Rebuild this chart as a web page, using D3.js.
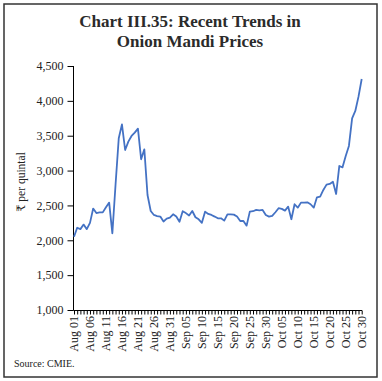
<!DOCTYPE html>
<html><head><meta charset="utf-8">
<script src="https://cdn.jsdelivr.net/npm/d3@7"></script>
<style>body{margin:0;background:#fff}svg{display:block}</style>
</head><body>
<script>
const startDate = "2020-08-01";
const endDate = "2020-10-30";
const prices = [2050,2180,2160,2225,2160,2250,2455,2390,2400,2400,2475,2540,2100,2800,3463,3663,3295,3415,3496,3544,3601,3162,3305,2650,2420,2363,2348,2340,2270,2310,2325,2373,2340,2265,2417,2390,2355,2420,2330,2300,2250,2411,2378,2363,2340,2315,2315,2282,2373,2373,2368,2340,2277,2277,2210,2411,2417,2435,2430,2435,2363,2340,2350,2402,2460,2450,2425,2483,2302,2517,2468,2540,2540,2545,2517,2468,2617,2626,2722,2798,2808,2841,2664,3066,3047,3209,3353,3750,3855,4060,4314];
const yTicks = [1000,1500,2000,2500,3000,3500,4000,4500];
const xTickLabels = ["Aug 01","Aug 06","Aug 11","Aug 16","Aug 21","Aug 26","Aug 31","Sep 05","Sep 10","Sep 15","Sep 20","Sep 25","Sep 30","Oct 05","Oct 10","Oct 15","Oct 20","Oct 25","Oct 30"];
const titleLines = ["Chart III.35: Recent Trends in","Onion Mandi Prices"];
const yTitle = "₹ per quintal";
const sourceText = "Source: CMIE.";

const W = 382, H = 381;
const svg = d3.select("body").append("svg").attr("width", W).attr("height", H);
svg.append("rect").attr("x",4).attr("y",4).attr("width",373).attr("height",373)
  .attr("fill","#fff").attr("stroke","#333").attr("stroke-width",1.5);

const parse = d3.utcParse("%Y-%m-%d");
const days = d3.utcDay.range(parse(startDate), d3.utcDay.offset(parse(endDate),1));
const data = days.map((d,i)=>({date:d, v:prices[i]}));

const x = d3.scaleUtc().domain([days[0], days[days.length-1]]).range([74, 361.7]);
const y = d3.scaleLinear().domain([1000,4500]).range([310,66]);

const serif = "'Liberation Serif','DejaVu Serif',serif";

// title
titleLines.forEach((t,i)=>{
  svg.append("text").attr("x",190).attr("y",27+i*19.5).attr("text-anchor","middle")
    .attr("font-family",serif).attr("font-weight","bold").attr("font-size",17)
    .attr("fill","#2b2b2b").text(t);
});

// y axis
const yAxis = svg.append("g").attr("transform","translate(73.5,0)")
  .call(d3.axisLeft(y).tickValues(yTicks).tickSize(6).tickPadding(4).tickFormat(d3.format(",")));
yAxis.select(".domain").attr("stroke","#000").attr("d","M0,66V310.5");
yAxis.selectAll(".tick line").attr("stroke","#000");
yAxis.selectAll("text").attr("font-family",serif).attr("font-size",12).attr("fill","#222");

// x axis
const xAxis = svg.append("g").attr("transform","translate(0,310.5)")
  .call(d3.axisBottom(x).tickValues(days).tickSize(4).tickFormat(""));
xAxis.select(".domain").attr("stroke","#000").attr("d","M73.5,0H362");
xAxis.selectAll(".tick line").attr("stroke","#000");

const labelDays = days.filter((d,i)=>i%5===0);
svg.append("g").selectAll("text").data(labelDays).join("text")
  .attr("transform",d=>`translate(${x(d)+4},316) rotate(-90)`)
  .attr("text-anchor","end")
  .attr("font-family",serif).attr("font-size",12).attr("fill","#222")
  .text((d,i)=>xTickLabels[i]);

// y title
svg.append("text").attr("transform","translate(25,182) rotate(-90)").attr("text-anchor","middle")
  .attr("font-family",serif).attr("font-size",11.5).attr("fill","#222").text(yTitle);

// line
svg.append("path").datum(data)
  .attr("fill","none").attr("stroke","#4472C4").attr("stroke-width",1.8).attr("stroke-linejoin","round")
  .attr("d", d3.line().x(d=>x(d.date)).y(d=>y(d.v)));

// source
svg.append("text").attr("x",14).attr("y",367).attr("font-family",serif).attr("font-size",10)
  .attr("fill","#222").text(sourceText);
</script>
</body></html>
